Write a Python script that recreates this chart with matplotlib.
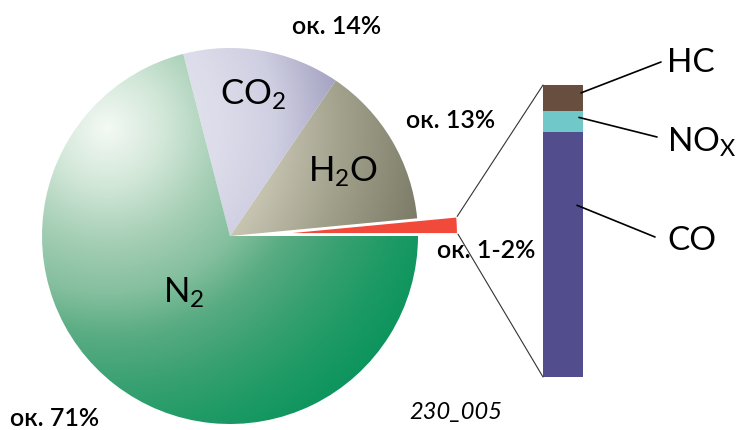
import numpy as np
import matplotlib.pyplot as plt
from matplotlib.colors import LinearSegmentedColormap
from matplotlib.patches import ConnectionPatch

plt.rcParams['font.family'] = ['Lato', 'DejaVu Sans']
plt.rcParams['mathtext.default'] = 'regular'

W, H = 745, 430

# exhaust gas composition, counter-clockwise from 0 deg
gases = ['rest', 'H$_2$O', 'CO$_2$', 'N$_2$']
shares = [1.5, 14.0, 13.5, 71.0]
share_labels = ['ок. 1-2%', 'ок. 13%', 'ок. 14%', 'ок. 71%']

# what the small slice is made of (bottom to top)
toxic = ['CO', 'NO$_X$', 'HC']
toxic_shares = [84, 7, 9]
toxic_colors = ['#524e8e', '#70c8c8', '#684e3e']

code_label = '230_005'

# radial shading for each big slice (position = distance from highlight / 2)
shade = {
    'H$_2$O': [(0, '#e8e6da'), (0.43, '#c8c6b3'), (0.62, '#a3a28d'), (0.86, '#7c7b67'), (1, '#6e6e5c')],
    'CO$_2$': [(0, '#f0f0f6'), (0.3, '#dcdcea'), (0.45, '#cfcfe2'), (0.62, '#a5a3c1'), (1, '#8a88aa')],
    'N$_2$': [(0, '#f4f9f5'), (0.15, '#d2e7d8'), (0.3, '#a6cfb6'), (0.44, '#84bf9e'),
              (0.55, '#5aac83'), (0.68, '#3aa173'), (0.82, '#1d9a65'), (1, '#05915a')],
}


def px(x, y):
    return x / W, 1 - y / H


fig = plt.figure(figsize=(W / 100, H / 100), dpi=100)

# pie: centre (230, 236) px, radius 188 px
ax = fig.add_axes([42 / W, (H - 424) / H, 376 / W, 376 / H])
wedges, _ = ax.pie(shares, startangle=0, counterclock=True, radius=1,
                   explode=[0.213, 0, 0, 0],
                   wedgeprops=dict(linewidth=0))

red = wedges[0]
red.set_facecolor('#f24a3a')
red.set_edgecolor('white')
red.set_linewidth(1.5)
red.set_zorder(3)

hx, hy = -0.654, 0.574
g = np.linspace(-1.05, 1.05, 700)
X, Y = np.meshgrid(g, g)
D = np.hypot(X - hx, Y - hy) / 2.0
for w, name in zip(wedges[1:], gases[1:]):
    w.set_facecolor('none')
    cmap = LinearSegmentedColormap.from_list(name, shade[name])
    im = ax.imshow(D, cmap=cmap, vmin=0, vmax=1, origin='lower',
                   extent=(-1.05, 1.05, -1.05, 1.05), aspect='auto', zorder=1,
                   interpolation='bilinear')
    im.set_clip_path(w)

ax.set_xlim(-1, 1)
ax.set_ylim(-1, 1)
ax.axis('off')

# names inside the pie
ax.text(-0.053, 0.697, 'CO$_2$', fontsize=25, ha='left', va='baseline')
ax.text(0.415, 0.287, 'H$_2$O', fontsize=25, ha='left', va='baseline')
ax.text(-0.356, -0.356, 'N$_2$', fontsize=25, ha='left', va='baseline')

# stacked bar for the small slice
bx = fig.add_axes([543 / W, (H - 377) / H, 40 / W, 292 / H])
bottom = 0
anchors = []
for name, v, c in zip(toxic, toxic_shares, toxic_colors):
    bx.bar(0, v, width=1, bottom=bottom, color=c, linewidth=0)
    anchors.append(bottom + 0.7 * v)
    bottom += v
bx.set_xlim(-0.5, 0.5)
bx.set_ylim(0, bottom)
bx.axis('off')

# lines from the slice to the bar
cx, cy = red.center
r = red.r
t1, t2 = np.radians(red.theta1), np.radians(red.theta2)
for ang, ybar in [(t2, bottom), (t1, 0)]:
    con = ConnectionPatch(xyA=(-0.5, ybar), coordsA=bx.transData,
                          xyB=(cx + r * np.cos(ang), cy + r * np.sin(ang)), coordsB=ax.transData,
                          color='#333333', lw=0.8)
    fig.add_artist(con)

# leader lines and names of the toxic parts
ends = [(655, 237), (657, 137), (661, 62)]
xs_in = [0.35, 0.4, 0.45]
baselines = [250, 152, 72]
for name, ya, (ex, ey), xa, base in zip(toxic, anchors, ends, xs_in, baselines):
    bx.annotate('', xy=(xa, ya), xycoords='data', xytext=(ex, H - ey), textcoords='figure pixels',
                arrowprops=dict(arrowstyle='-', color='black', lw=1.2, shrinkA=0, shrinkB=0),
                annotation_clip=False)
    fig.text(*px(667, base), name, fontsize=24, ha='left', va='baseline')

# percentage labels
label_pos = [(486, 250), (451, 120), (337, 27), (55, 418)]
for lab, (x, y) in zip(share_labels, label_pos):
    fig.text(*px(x, y), lab, fontsize=18, fontweight='semibold', ha='center', va='center')

fig.text(*px(456, 412), code_label, fontsize=17, style='italic', ha='center', va='center')

fig.savefig('out.png', dpi=100)
